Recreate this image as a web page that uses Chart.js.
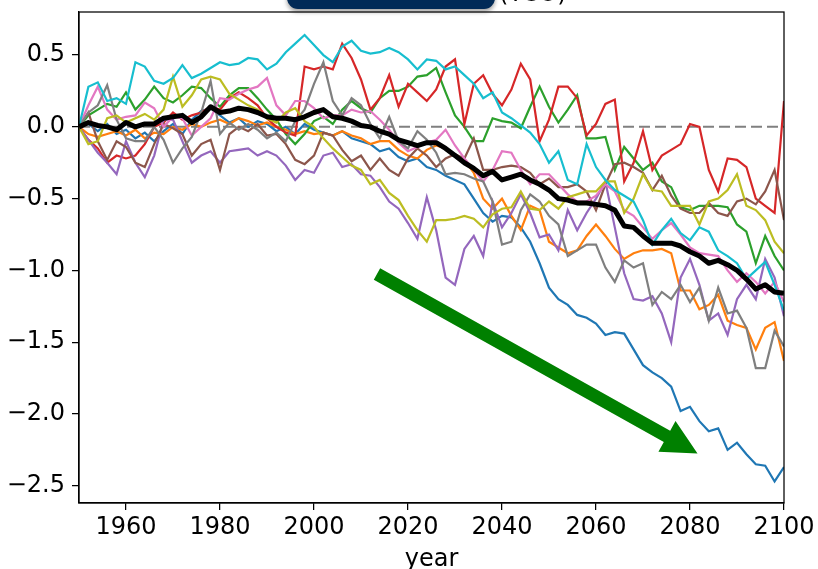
<!DOCTYPE html>
<html>
<head>
<meta charset="utf-8">
<script src="https://cdn.jsdelivr.net/npm/chart.js@4.4.1/dist/chart.umd.min.js"></script>
<style>
  html, body { margin: 0; padding: 0; background: #fff; }
  #wrap { position: relative; width: 818px; height: 569px; overflow: hidden; }
  #c { position: absolute; left: 0; top: 0; }
  #box { position: absolute; left: 287px; top: -24px; width: 208px; height: 33px;
         background: #012a57; border-radius: 11px; box-shadow: 0 3px 4px rgba(0,0,0,0.35); }
  #unit { position: absolute; left: 499px; top: -21px; font: 24px "DejaVu Sans"; color: #000; white-space: nowrap; }
</style>
</head>
<body>
<div id="wrap">
  <canvas id="c" width="818" height="569"></canvas>
  <div id="box"></div>
  <div id="unit">(TCO)</div>
</div>
<script>
const years = [1950,1952,1954,1956,1958,1960,1962,1964,1966,1968,
  1970,1972,1974,1976,1978,1980,1982,1984,1986,1988,
  1990,1992,1994,1996,1998,2000,2002,2004,2006,2008,
  2010,2012,2014,2016,2018,2020,2022,2024,2026,2028,
  2030,2032,2034,2036,2038,2040,2042,2044,2046,2048,
  2050,2052,2054,2056,2058,2060,2062,2064,2066,2068,
  2070,2072,2074,2076,2078,2080,2082,2084,2086,2088,
  2090,2092,2094,2096,2098,2100];

const member1 = [0.0,0.02,-0.03,0.02,-0.05,-0.02,-0.08,-0.04,-0.1,-0.03,
  0.02,-0.05,0.05,0.11,0.13,0.08,0.03,0.06,0.0,0.04,
  0.02,-0.03,0.0,-0.05,0.02,-0.02,-0.04,-0.06,-0.03,-0.08,
  -0.1,-0.12,-0.17,-0.15,-0.21,-0.24,-0.22,-0.28,-0.3,-0.34,
  -0.37,-0.4,-0.5,-0.6,-0.66,-0.62,-0.63,-0.7,-0.8,-0.95,
  -1.12,-1.2,-1.24,-1.31,-1.33,-1.37,-1.45,-1.43,-1.44,-1.55,
  -1.66,-1.71,-1.75,-1.81,-1.98,-1.95,-2.05,-2.12,-2.1,-2.25,
  -2.2,-2.28,-2.35,-2.36,-2.47,-2.37];
const member2 = [0.0,-0.05,-0.07,-0.05,-0.03,-0.06,-0.02,-0.08,-0.04,-0.05,
  0.0,-0.02,0.02,0.0,0.03,0.05,0.02,0.06,0.04,0.01,
  0.03,0.0,-0.02,-0.05,-0.03,-0.05,-0.04,-0.06,-0.03,-0.06,
  -0.08,-0.12,-0.1,-0.1,-0.16,-0.2,-0.22,-0.16,-0.13,-0.15,
  -0.2,-0.23,-0.32,-0.5,-0.57,-0.5,-0.62,-0.72,-0.55,-0.58,
  -0.8,-0.84,-0.88,-0.86,-0.76,-0.68,-0.76,-0.85,-0.92,-0.88,
  -0.86,-0.86,-0.85,-0.88,-1.14,-1.14,-1.27,-1.24,-1.17,-1.35,
  -1.38,-1.4,-1.55,-1.4,-1.36,-1.63];
const member3 = [0.0,0.08,0.12,0.16,0.14,0.24,0.12,0.19,0.28,0.2,
  0.17,0.22,0.28,0.27,0.2,0.14,0.22,0.27,0.27,0.2,
  0.12,0.05,-0.05,-0.12,-0.05,0.04,0.07,0.02,0.12,0.18,
  0.13,0.1,0.2,0.25,0.25,0.28,0.35,0.36,0.41,0.24,
  0.08,0.0,-0.1,-0.1,0.06,0.04,0.03,-0.01,0.14,0.28,
  0.14,0.03,0.12,0.22,-0.08,-0.08,-0.07,-0.3,-0.14,-0.22,
  -0.3,-0.25,-0.38,-0.42,-0.56,-0.58,-0.55,-0.55,-0.55,-0.56,
  -0.68,-0.73,-0.95,-0.76,-0.9,-1.0];
const member4 = [0.0,-0.09,-0.15,-0.25,-0.2,-0.22,-0.2,-0.12,0.0,0.03,
  0.1,0.05,0.08,0.1,0.14,0.12,0.2,0.24,0.2,0.15,
  0.06,0.0,-0.04,-0.06,0.42,0.4,0.42,0.4,0.58,0.48,
  0.33,0.12,0.2,0.36,0.14,0.3,0.24,0.18,0.26,0.42,
  0.47,0.02,0.3,0.36,0.23,0.15,0.26,0.44,0.33,-0.1,
  0.05,0.28,0.28,0.2,-0.06,0.02,0.16,0.19,-0.38,-0.25,
  -0.03,-0.3,-0.2,-0.16,-0.12,0.02,0.0,-0.3,-0.45,-0.22,
  -0.23,-0.28,-0.5,-0.55,-0.6,0.18];
const member5 = [0.0,-0.09,-0.18,-0.25,-0.33,-0.1,-0.25,-0.35,-0.2,0.05,
  0.05,-0.1,-0.25,-0.2,-0.17,-0.25,-0.17,-0.16,-0.15,-0.2,
  -0.17,-0.2,-0.27,-0.37,-0.3,-0.32,-0.2,-0.18,-0.28,-0.26,
  -0.33,-0.34,-0.42,-0.52,-0.57,-0.67,-0.78,-0.49,-0.72,-1.05,
  -1.1,-0.85,-0.76,-0.9,-0.52,-0.7,-0.6,-0.47,-0.6,-0.77,
  -0.75,-0.86,-0.58,-0.72,-0.6,-0.5,-0.38,-0.7,-1.02,-1.2,
  -1.21,-1.18,-1.3,-1.5,-1.05,-0.92,-1.1,-1.35,-1.3,-1.45,
  -1.2,-1.1,-1.2,-0.92,-1.05,-1.32];
const member6 = [0.0,0.1,-0.1,-0.23,-0.1,-0.14,-0.25,-0.28,-0.12,0.02,
  -0.01,-0.05,-0.2,-0.12,-0.09,-0.3,-0.05,0.0,-0.03,0.02,
  -0.06,-0.05,-0.12,-0.23,-0.26,-0.2,-0.04,-0.06,-0.16,-0.24,
  -0.2,-0.3,-0.22,-0.3,-0.34,-0.22,-0.15,-0.2,-0.28,-0.22,
  -0.19,-0.22,-0.08,-0.3,-0.3,-0.28,-0.27,-0.28,-0.32,-0.4,
  -0.36,-0.42,-0.42,-0.4,-0.45,-0.58,-0.4,-0.26,-0.25,-0.28,
  -0.32,-0.44,-0.34,-0.48,-0.57,-0.6,-0.6,-0.53,-0.6,-0.62,
  -0.52,-0.5,-0.54,-0.45,-0.3,-0.65];
const member7 = [0.0,0.15,0.28,0.12,0.05,0.07,0.08,0.17,0.13,0.0,
  0.07,0.06,-0.06,0.0,0.06,0.2,0.19,0.23,0.26,0.28,
  0.34,0.15,0.08,0.18,0.18,0.13,0.06,0.08,0.08,0.12,
  0.1,0.11,0.05,-0.02,-0.11,-0.17,-0.14,-0.11,-0.09,-0.02,
  -0.13,-0.22,-0.3,-0.38,-0.3,-0.17,-0.18,-0.3,-0.4,-0.33,
  -0.33,-0.4,-0.47,-0.52,-0.52,-0.48,-0.4,-0.45,-0.58,-0.62,
  -0.7,-0.78,-0.72,-0.67,-0.75,-0.84,-0.88,-0.89,-0.9,-1.0,
  -1.08,-1.02,-1.08,-1.16,-1.08,-1.22];
const member8 = [0.0,0.1,0.15,0.29,0.05,-0.08,-0.1,-0.1,0.0,-0.09,
  -0.25,-0.15,-0.07,0.1,0.32,-0.05,0.03,-0.02,0.02,-0.02,
  -0.08,-0.04,-0.1,0.04,0.12,0.3,0.45,0.18,0.08,0.2,
  0.15,0.02,-0.08,0.07,-0.1,-0.15,-0.03,-0.09,-0.18,-0.33,
  -0.32,-0.33,-0.36,-0.38,-0.52,-0.82,-0.8,-0.58,-0.47,-0.52,
  -0.62,-0.68,-0.9,-0.86,-0.82,-0.82,-0.98,-1.08,-0.93,-0.98,
  -0.95,-1.24,-1.15,-1.2,-1.1,-1.22,-1.12,-1.35,-1.12,-1.3,
  -1.28,-1.4,-1.68,-1.68,-1.42,-1.53];
const member9 = [0.0,-0.12,-0.1,0.06,0.08,0.03,0.06,0.09,0.05,0.12,
  0.35,0.14,0.22,0.33,0.35,0.33,0.23,0.19,0.15,0.12,
  0.06,0.03,0.1,0.13,0.04,0.0,-0.08,-0.15,-0.21,-0.27,
  -0.3,-0.4,-0.37,-0.46,-0.51,-0.62,-0.72,-0.8,-0.65,-0.65,
  -0.64,-0.62,-0.64,-0.7,-0.61,-0.57,-0.56,-0.45,-0.57,-0.58,
  -0.52,-0.57,-0.49,-0.47,-0.45,-0.45,-0.38,-0.38,-0.6,-0.5,
  -0.33,-0.44,-0.45,-0.55,-0.55,-0.55,-0.68,-0.52,-0.5,-0.44,
  -0.33,-0.55,-0.58,-0.65,-0.8,-0.88];
const member10 = [0.0,0.28,0.31,0.18,0.2,0.16,0.45,0.42,0.32,0.3,
  0.34,0.43,0.34,0.37,0.41,0.45,0.43,0.44,0.48,0.47,
  0.4,0.44,0.52,0.58,0.64,0.57,0.5,0.45,0.56,0.6,
  0.53,0.51,0.52,0.55,0.52,0.47,0.4,0.47,0.46,0.4,
  0.42,0.36,0.3,0.2,0.24,0.1,0.06,0.01,-0.04,-0.12,
  -0.25,-0.17,-0.37,-0.4,-0.12,-0.28,-0.37,-0.44,-0.48,-0.52,
  -0.65,-0.82,-0.72,-0.64,-0.74,-0.79,-0.7,-0.73,-0.86,-0.9,
  -0.95,-1.06,-1.0,-0.94,-1.1,-1.28];
const ensembleMean = [0.0,0.03,0.01,0.0,-0.02,0.03,0.0,0.02,0.02,0.06,
  0.07,0.08,0.03,0.07,0.14,0.1,0.11,0.13,0.12,0.1,
  0.07,0.06,0.06,0.05,0.07,0.1,0.12,0.07,0.06,0.04,
  0.01,0.0,-0.03,-0.05,-0.09,-0.11,-0.13,-0.11,-0.11,-0.15,
  -0.2,-0.25,-0.29,-0.34,-0.31,-0.37,-0.35,-0.33,-0.37,-0.4,
  -0.44,-0.5,-0.51,-0.53,-0.53,-0.54,-0.55,-0.58,-0.69,-0.7,
  -0.76,-0.81,-0.81,-0.81,-0.83,-0.87,-0.9,-0.95,-0.93,-0.96,
  -1.0,-1.06,-1.13,-1.1,-1.15,-1.16];

const members = [member1, member2, member3, member4, member5, member6, member7, member8, member9, member10];
const memberColors = ['#1f77b4','#ff7f0e','#2ca02c','#d62728','#9467bd','#8c564b','#e377c2','#7f7f7f','#bcbd22','#17becf'];

const xTicks = [1960, 1980, 2000, 2020, 2040, 2060, 2080, 2100];
const yTicks = [-2.5, -2.0, -1.5, -1.0, -0.5, 0.0, 0.5];
const baselineX = [1950, 2100];
const baselineY = [0, 0];
const arrowFrom = { x: 2013.4, y: -1.025 };
const arrowTo = { x: 2081.6, y: -2.275 };

const toXY = (vals) => years.map((yr, i) => ({ x: yr, y: vals[i] }));

const datasets = [];
members.forEach((m, i) => {
  datasets.push({ data: toXY(m), borderColor: memberColors[i], borderWidth: 2.2,
    pointRadius: 0, tension: 0, order: 10 - i });
});
datasets.push({ data: toXY(ensembleMean), borderColor: '#000', borderWidth: 5,
  pointRadius: 0, tension: 0, order: 0, borderJoinStyle: 'round' });
datasets.push({ data: baselineX.map((x, i) => ({ x, y: baselineY[i] })), borderColor: '#808080',
  borderWidth: 2, borderDash: [11, 5], pointRadius: 0, order: 20 });

const framePlugin = {
  id: 'frame',
  afterDraw(chart) {
    const { ctx, chartArea: a } = chart;
    ctx.save();
    ctx.strokeStyle = '#000';
    ctx.lineWidth = 1.25;
    ctx.strokeRect(a.left, a.top, a.right - a.left, a.bottom - a.top);
    ctx.restore();
  }
};

const arrowPlugin = {
  id: 'arrow',
  afterDatasetsDraw(chart) {
    const { ctx, scales } = chart;
    const x0 = scales.x.getPixelForValue(arrowFrom.x), y0 = scales.y.getPixelForValue(arrowFrom.y);
    const x1 = scales.x.getPixelForValue(arrowTo.x), y1 = scales.y.getPixelForValue(arrowTo.y);
    const dx = x1 - x0, dy = y1 - y0, len = Math.hypot(dx, dy);
    const ux = dx / len, uy = dy / len, nx = -uy, ny = ux;
    const sw = 6.5, hw = 17.5, hl = 35;
    const bx = x1 - ux * hl, by = y1 - uy * hl;
    ctx.save();
    ctx.fillStyle = '#008000';
    ctx.beginPath();
    ctx.moveTo(x0 + nx * sw, y0 + ny * sw);
    ctx.lineTo(bx + nx * sw, by + ny * sw);
    ctx.lineTo(bx + nx * hw, by + ny * hw);
    ctx.lineTo(x1, y1);
    ctx.lineTo(bx - nx * hw, by - ny * hw);
    ctx.lineTo(bx - nx * sw, by - ny * sw);
    ctx.lineTo(x0 - nx * sw, y0 - ny * sw);
    ctx.closePath();
    ctx.fill();
    ctx.restore();
  }
};

const fmt = (v) => (v < 0 ? '\u2212' : '') + Math.abs(v).toFixed(1);

new Chart(document.getElementById('c'), {
  type: 'line',
  data: { datasets },
  options: {
    responsive: false,
    animation: false,
    events: [],
    layout: { padding: { top: 12, right: 34, left: 0, bottom: 0 } },
    plugins: { legend: { display: false }, tooltip: { enabled: false } },
    scales: {
      x: {
        type: 'linear', min: 1950, max: 2100,
        afterBuildTicks: (s) => { s.ticks = xTicks.map(v => ({ value: v })); },
        afterFit: (s) => { s.height = 66; s.paddingLeft = 0; s.paddingRight = 0; },
        ticks: { font: { family: 'DejaVu Sans', size: 24 }, color: '#000', padding: 3, maxRotation: 0,
          callback: (v) => String(v) },
        grid: { display: true, drawOnChartArea: false, drawTicks: true, tickLength: 7, color: '#000', lineWidth: 1.25 },
        border: { display: true, color: '#000', width: 1.25 },
        title: { display: true, text: 'year', font: { family: 'DejaVu Sans', size: 24 }, color: '#000',
          padding: { top: 0, bottom: -5 } }
      },
      y: {
        type: 'linear', min: -2.62, max: 0.80,
        afterBuildTicks: (s) => { s.ticks = yTicks.map(v => ({ value: v })); },
        afterFit: (s) => { s.width = 79; s.paddingTop = 0; s.paddingBottom = 0; },
        ticks: { font: { family: 'DejaVu Sans', size: 24 }, color: '#000', padding: 7, callback: fmt },
        grid: { display: true, drawOnChartArea: false, drawTicks: true, tickLength: 7, color: '#000', lineWidth: 1.25 },
        border: { display: true, color: '#000', width: 1.25 }
      }
    }
  },
  plugins: [framePlugin, arrowPlugin]
});
</script>
</body>
</html>
